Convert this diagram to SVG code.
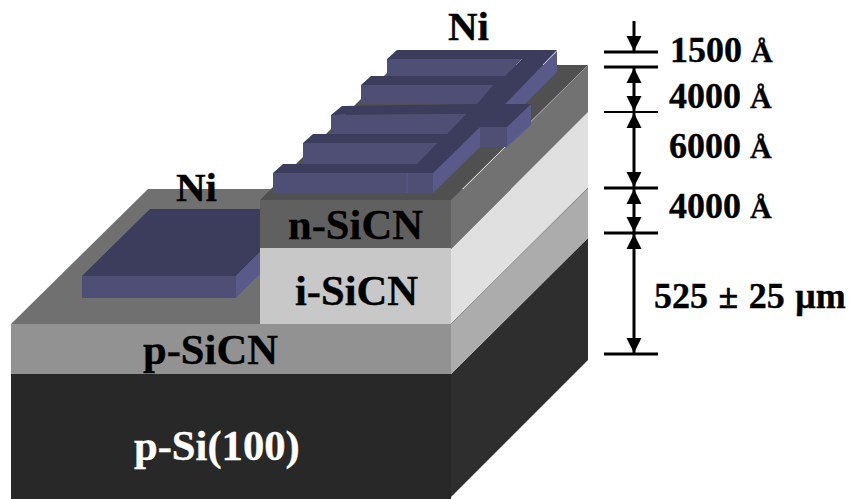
<svg xmlns="http://www.w3.org/2000/svg" width="851" height="499" viewBox="0 0 851 499">
<defs>
<style>
text{font-family:"Liberation Serif","Times New Roman",serif;font-weight:bold;fill:#000;stroke:#000;stroke-width:.35px}
.lbl{font-size:42.6px}
.dim{font-size:36px}
.a{font-size:30px}
.tick{stroke:#000;stroke-width:3;fill:none}
.arr{stroke:#000;stroke-width:3;fill:none;marker-end:url(#head)}
.arr2{stroke:#000;stroke-width:3;fill:none;marker-start:url(#head);marker-end:url(#head)}
.nt{fill:#3c3c5c}
.nf{fill:#4f4f76}
.ns{fill:#5a5a8a}
</style>
<marker id="head" markerUnits="userSpaceOnUse" markerWidth="16" markerHeight="16" refX="15" refY="8" orient="auto-start-reverse">
<path d="M0,0.5L15,8L0,15.5Z" fill="#000"/>
</marker>
</defs>
<g id="layer-p-si">
<rect x="11" y="374" width="440" height="125" fill="#282828"/>
<polygon points="451,374 588,238 588,360 451,497 451,499" fill="#2e2e2e"/>
<text class="lbl" x="134" y="460" style="fill:#fff;stroke:#fff">p-Si(100)</text>
</g>
<g id="layer-p-sicn">
<polygon points="11,324 148,189 588,189 451,324" fill="#707070"/>
<rect x="11" y="324" width="440" height="50" fill="#929292"/>
<polygon points="451,324 588,188 588,238 451,374" fill="#acacac"/>
<text class="lbl" x="143" y="364">p-SiCN</text>
</g>
<g id="layer-i-sicn">
<rect x="260" y="248" width="191" height="76" fill="#c8c8c8"/>
<polygon points="451,249 588,112 588,188 451,324" fill="#e0e0e0"/>
<line x1="451" y1="324" x2="588" y2="188" stroke="#888" stroke-width="1"/>
<text class="lbl" x="295" y="305">i-SiCN</text>
</g>
<g id="layer-n-sicn">
<polygon points="260,200 395,65 588,65 451,200" fill="#505050"/>
<rect x="260" y="200" width="191" height="48" fill="#606060"/>
<polygon points="451,201 588,65 588,112 451,249" fill="#727272"/>
<text class="lbl" x="288" y="239">n-SiCN</text>
</g>
<g id="ni-left">
<polygon class="nt" points="150,209 260,209 260,252 236,276 82,276"/>
<rect class="nf" x="82" y="276" width="154" height="22"/>
<polygon class="ns" points="236,276 260,252 260,274 236,298"/>
<text class="lbl" x="176" y="201" style="font-size:41px">Ni</text>
</g>
<g id="ni-top">
<polygon class="ns" points="505,104 557,51 557,72 525,104"/>
<polygon class="ns" points="433,173 480,127 480,147 433,193"/>
<polygon class="ns" points="507,127 531,104 531,125 507,147"/>
<polygon class="nf" points="480,127 507,127 507,147 480,147"/>
<polygon class="nt" points="397,50 557,50 505,104 531,104 507,127 480,127 433,173 273,173 283,164 417,164 437,143 303,143 313,134 447,134 466,114 331,115 342,106 477,104 493,85 361,85 371,76 505,76 522,59 387,59"/>
<polygon class="nf" points="387,59 522,59 505,76 387,76"/>
<polygon class="nf" points="361,85 493,85 477,104 361,104"/>
<polygon class="nf" points="331,115 466,114 447,134 331,134"/>
<polygon class="nf" points="303,143 437,143 417,164 303,164"/>
<rect class="nf" x="273" y="173" width="160" height="20"/>
<line x1="407" y1="173" x2="407" y2="193" stroke="#5a5a8a" stroke-width="1"/>
<text class="lbl" x="448" y="40" style="font-size:41px">Ni</text>
</g>
<g id="connectors">
<line class="tick" x1="604" y1="52" x2="658" y2="52"/>
<line class="tick" x1="604" y1="67" x2="658" y2="67"/>
<line class="tick" x1="604" y1="112" x2="658" y2="112" style="stroke-width:2"/>
<line class="tick" x1="604" y1="188" x2="658" y2="188"/>
<line class="tick" x1="604" y1="233" x2="658" y2="233"/>
<line class="tick" x1="604" y1="354" x2="658" y2="354"/>
<line class="arr" x1="634" y1="21" x2="634" y2="51"/>
<line class="arr2" x1="634" y1="68" x2="634" y2="111"/>
<line class="arr2" x1="634" y1="113" x2="634" y2="187"/>
<line class="arr2" x1="634" y1="189" x2="634" y2="232"/>
<line class="arr2" x1="634" y1="234" x2="634" y2="353"/>
</g>
<g id="dimension-labels">
<text class="dim" x="670" y="62">1500 <tspan class="a">Å</tspan></text>
<text class="dim" x="669" y="108">4000 <tspan class="a">Å</tspan></text>
<text class="dim" x="669" y="158">6000 <tspan class="a">Å</tspan></text>
<text class="dim" x="669" y="218">4000 <tspan class="a">Å</tspan></text>
<text class="dim" x="654" y="308" style="word-spacing:1.5px">525 ± 25 μm</text>
</g>
</svg>
